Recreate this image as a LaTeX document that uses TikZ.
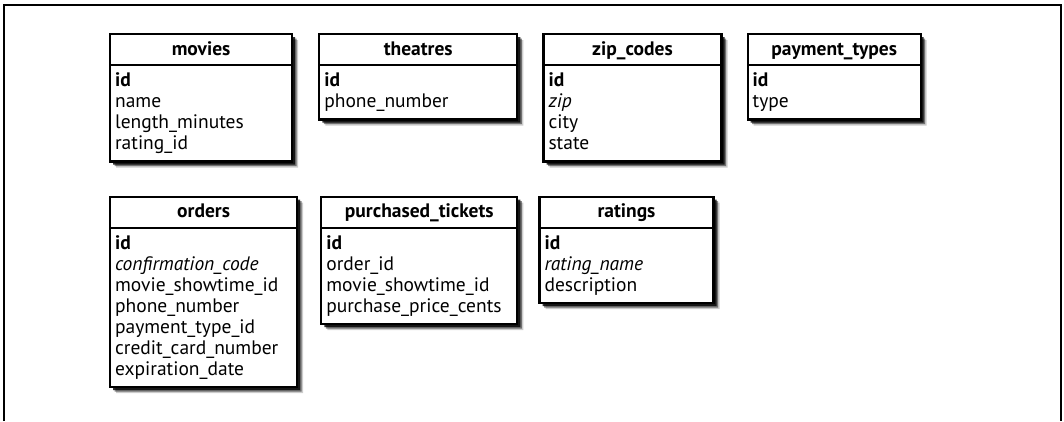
\documentclass[tikz,border=0pt]{standalone}
\usepackage{fontspec}
\setmainfont{PT Sans}
\usetikzlibrary{positioning, shapes.multipart, shadows}

% struts for header and body parts
\newcommand{\hstrut}{\rule[-6pt]{0pt}{23pt}}
\newcommand{\tabhead}[1]{\hstrut\hfill\textbf{#1}\hfill\null}
\newcommand{\firstrow}{\rule{0pt}{17pt}}
\newcommand{\lastrow}{\rule[-8pt]{0pt}{8pt}}

\begin{document}
\begin{tikzpicture}[
    x=1pt, y=1pt,
    table/.style={
        rectangle split, rectangle split parts=2,
        draw=black, line width=2.2pt,
        fill=white,
        inner xsep=5pt, inner ysep=3pt,
        align=left,
        font=\fontsize{19.5}{21}\selectfont,
        drop shadow={shadow xshift=6pt, shadow yshift=-6pt, fill=black, opacity=0.2},
        drop shadow={shadow xshift=4.5pt, shadow yshift=-4.5pt, fill=black, opacity=0.45},
        drop shadow={shadow xshift=3pt, shadow yshift=-3pt, fill=black, opacity=0.8}
    },
    frame/.style={draw=black, line width=2.5pt}
]
\useasboundingbox (0,0) rectangle (1064,-421);

% Outer frame
\draw[frame] (4,-421) -- (4,-5) -- (1061,-5) -- (1061,-421);

% First row
\node[table, text width=172pt, anchor=north west] (movies) at (109,-33)
    {\tabhead{movies}
     \nodepart{two}\firstrow\textbf{id}\\name\\length\_minutes\\rating\_id\lastrow};
\node[table, text width=188pt, right=25pt of movies.north east, anchor=north west] (theatres)
    {\tabhead{theatres}
     \nodepart{two}\firstrow\textbf{id}\\phone\_number\lastrow};
\node[table, text width=168pt, right=24pt of theatres.north east, anchor=north west] (zipcodes)
    {\tabhead{zip\_codes}
     \nodepart{two}\firstrow\textbf{id}\\\textit{zip}\\city\\state\lastrow};
\node[table, text width=163pt, right=24pt of zipcodes.north east, anchor=north west] (paytypes)
    {\tabhead{payment\_types}
     \nodepart{two}\firstrow\textbf{id}\\type\lastrow};

% Second row
\node[table, text width=177pt, below=33pt of movies.south west, anchor=north west] (orders)
    {\tabhead{orders}
     \nodepart{two}\firstrow\textbf{id}\\\textit{confirmation\_code}\\movie\_showtime\_id\\phone\_number\\payment\_type\_id\\credit\_card\_number\\expiration\_date\lastrow};
\node[table, text width=186pt, right=22pt of orders.north east, anchor=north west] (tickets)
    {\tabhead{purchased\_tickets}
     \nodepart{two}\firstrow\textbf{id}\\order\_id\\movie\_showtime\_id\\purchase\_price\_cents\lastrow};
\node[table, text width=164pt, right=20pt of tickets.north east, anchor=north west] (ratings)
    {\tabhead{ratings}
     \nodepart{two}\firstrow\textbf{id}\\\textit{rating\_name}\\description\lastrow};

\end{tikzpicture}
\end{document}
